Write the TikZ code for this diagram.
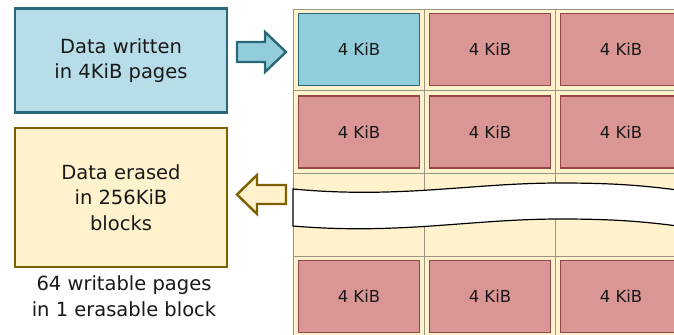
\documentclass[tikz,border=0pt]{standalone}
\usepackage{fontspec}
\setmainfont{DejaVu Sans}
\definecolor{boxblue}{HTML}{B7DDE8}
\definecolor{cellblue}{HTML}{92CDDC}
\definecolor{edgeblue}{HTML}{2A6878}
\definecolor{boxyellow}{HTML}{FFF2CC}
\definecolor{edgeyellow}{HTML}{7F6000}
\definecolor{cellred}{HTML}{D99694}
\definecolor{edgered}{HTML}{944644}
\definecolor{gridgray}{HTML}{9C9680}
\tikzset{
  bigtext/.style={font=\fontsize{19.5bp}{25.5bp}\selectfont, text=black!90, align=center},
  sidebox/.style={bigtext, draw, line width=2.4bp, inner sep=0pt, minimum width=212bp},
  page/.style={draw=edgered, fill=cellred, line width=1.5bp, inner sep=0pt,
    minimum width=121bp, minimum height=72bp, text=black!90,
    font=\fontsize{16.5bp}{20bp}\selectfont},
}
\begin{document}
\begin{tikzpicture}[x=1bp,y=-1bp]
\useasboundingbox (0,0) rectangle (674,334);
\clip (0,0) rectangle (674,334);
% left side
\node[sidebox, draw=edgeblue, fill=boxblue, minimum height=104bp] (written) at (121,60.5) {Data written\\in 4KiB pages};
\node[sidebox, draw=edgeyellow, fill=boxyellow, minimum height=139bp] (erased) at (121,197.5) {Data erased\\in 256KiB\\blocks};
\node[bigtext] (note) at (124,296) {64 writable pages\\in 1 erasable block};
% block arrows
\draw[draw=edgeblue, fill=cellblue, line width=2.4bp, line join=miter] (237,42) -- (265,42) -- (265,32) -- (286,52) -- (265,72) -- (265,62) -- (237,62) -- cycle;
\draw[draw=edgeyellow, fill=boxyellow, line width=2.4bp, line join=miter] (286,185) -- (257,185) -- (257,175) -- (237,194.5) -- (257,214) -- (257,204) -- (286,204) -- cycle;
% erasable block grid
\fill[boxyellow] (293,9) rectangle (700,340);
\draw[gridgray, line width=1bp] (293,340) -- (293,9) -- (700,9);
\draw[gridgray, line width=1bp] (424,9) -- (424,340);
\draw[gridgray, line width=1bp] (555,9) -- (555,340);
\draw[gridgray, line width=1bp] (293,90) -- (700,90);
\draw[gridgray, line width=1bp] (293,173) -- (700,173);
\draw[gridgray, line width=1bp] (293,256) -- (700,256);
% pages
\node[page, draw=edgeblue, fill=cellblue] (p11) at (359,49.5) {4 KiB};
\node[page] (p12) at (490,49.5) {4 KiB};
\node[page] (p13) at (621,49.5) {4 KiB};
\node[page] (p21) at (359,132) {4 KiB};
\node[page] (p22) at (490,132) {4 KiB};
\node[page] (p23) at (621,132) {4 KiB};
\node[page] (p41) at (359,296.5) {4 KiB};
\node[page] (p42) at (490,296.5) {4 KiB};
\node[page] (p43) at (621,296.5) {4 KiB};
% cut band
\draw[fill=white, line width=1.2bp] (293,189) .. controls (400,199) and (470,183) .. (560,183) .. controls (620,183) and (650,186) .. (700,193) -- (700,229) .. controls (650,222) and (620,219) .. (560,219) .. controls (470,219) and (400,235) .. (293,226) -- cycle;
\end{tikzpicture}
\end{document}
